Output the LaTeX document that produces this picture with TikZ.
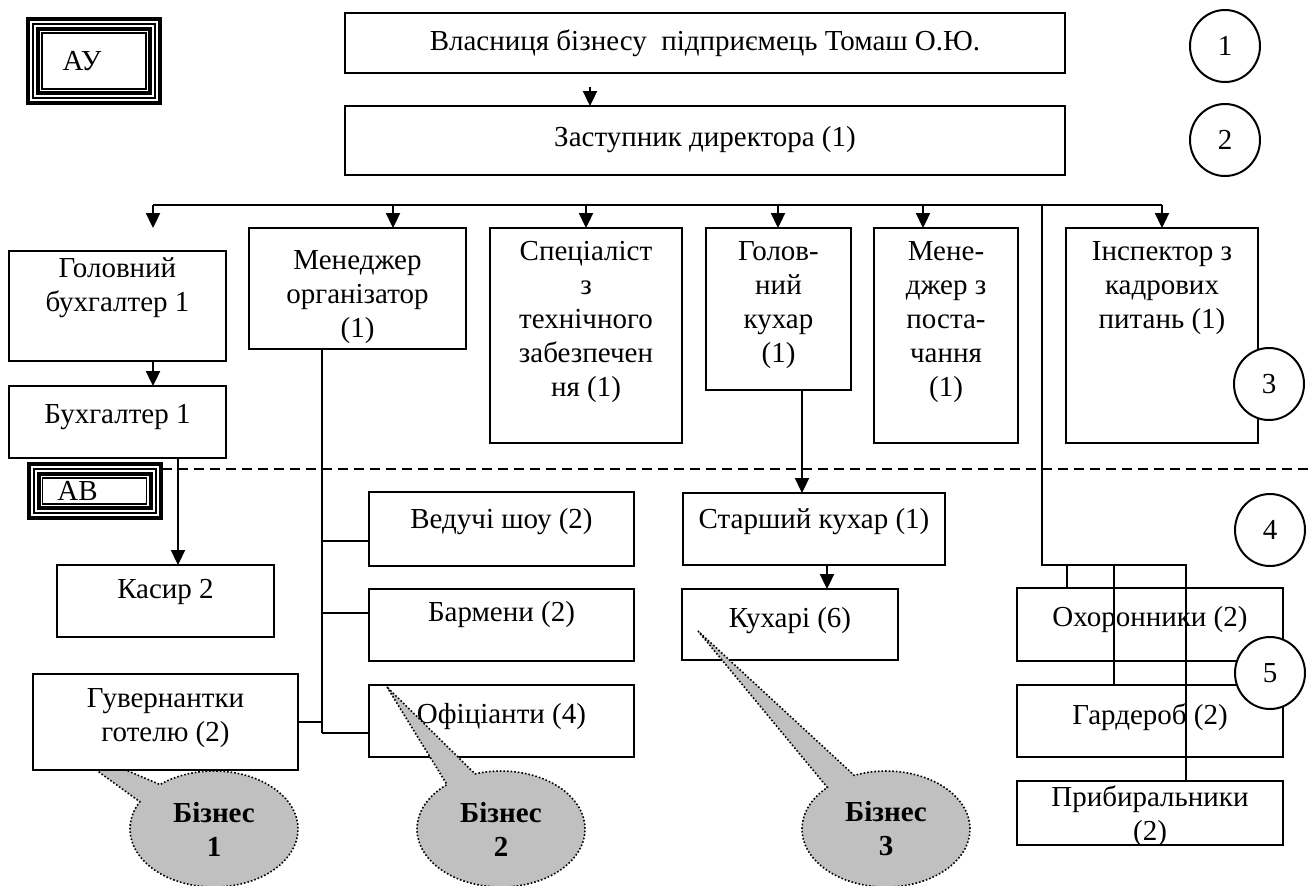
\documentclass[tikz,border=0pt]{standalone}
\usepackage{fontspec}
\setmainfont{Liberation Serif}
\usetikzlibrary{arrows.meta,shapes.geometric,shapes.callouts}
\definecolor{orgink}{HTML}{000000}
\definecolor{orggrey}{HTML}{C0C0C0}

\begin{document}
\begin{tikzpicture}[
  x=0.5pt, y=-0.5pt,
  every node/.style={inner sep=0pt, outer sep=0pt, text=orgink},
  bx/.style={draw=orgink, line width=1.2pt, fill=white},
  txt/.style={font=\fontsize{14.5}{17}\selectfont, align=center},
  ln/.style={draw=orgink, line width=1.15pt},
  flow/.style={ln, -{Triangle[length=7.5pt,width=7pt]}},
  sepline/.style={draw=orgink, line width=1pt, dash pattern=on 5pt off 3pt},
  num/.style={ellipse, draw=orgink, line width=1pt, fill=white,
    minimum width=35pt, minimum height=36pt, font=\fontsize{14.5}{17}\selectfont},
  lvl/.style={draw=orgink, line width=2pt, fill=white, minimum width=66pt,
    font=\fontsize{14.5}{17}\selectfont},
  biz/.style={ellipse callout, draw=orgink, densely dotted, line width=0.8pt,
    fill=orggrey, minimum width=84pt, minimum height=58pt, callout pointer arc=22,
    align=center, font=\fontsize{14.5}{17}\selectfont\bfseries},
]
\useasboundingbox (0,0) rectangle (1313,885);

% a box from its corners, text centred at a given height
\newcommand{\orgbox}[7]{%
  \node[bx, minimum width={(#4-#2)*0.5pt}, minimum height={(#5-#3)*0.5pt}]
    (#1) at ({(#2+#4)/2},{(#3+#5)/2}) {};
  \node[txt] (#1-t) at ({(#2+#4)/2},#6) {#7};}
% thick-thin frame inside a level tag
\newcommand{\triframe}[1]{%
  \draw[line width=1pt] ([shift={(2.5pt,-2.5pt)}]#1.north west)
    rectangle ([shift={(-2.5pt,2.5pt)}]#1.south east);
  \draw[line width=2pt] ([shift={(5pt,-5pt)}]#1.north west)
    rectangle ([shift={(-5pt,5pt)}]#1.south east);
  \draw[line width=0.6pt] ([shift={(7pt,-7pt)}]#1.north west)
    rectangle ([shift={(-7pt,7pt)}]#1.south east);}

% ---------- business 1 sits under the governesses ----------
\node[biz, callout absolute pointer={(55,740)}] (biz1) at (214,829) {Бізнес\\1};

% ---------- levels 1-2 ----------
\orgbox{own}{345}{13}{1065}{73}{43}{Власниця бізнесу\ \ підприємець Томаш О.Ю.}
\orgbox{zast}{345}{106}{1065}{175}{140}{Заступник директора (1)}

% ---------- level 3 ----------
\orgbox{gbuh}{9}{251}{226}{361}{288}{Головний\\бухгалтер 1}
\orgbox{buh}{9}{386}{226}{458}{417}{Бухгалтер 1}
\orgbox{mgr}{249}{228}{466}{349}{297}{Менеджер\\організатор\\(1)}
\orgbox{spec}{490}{228}{682}{443}{322}{Спеціаліст\\з\\технічного\\забезпечен\\ня (1)}
\orgbox{chef}{706}{228}{851}{390}{305}{Голов-\\ний\\кухар\\(1)}
\orgbox{supl}{874}{228}{1018}{443}{322}{Мене-\\джер з\\поста-\\чання\\(1)}
\orgbox{insp}{1066}{228}{1258}{443}{288}{Інспектор з\\кадрових\\питань (1)}

% ---------- levels 4-5 ----------
\orgbox{kasyr}{57}{565}{274}{637}{592}{Касир 2}
\orgbox{guv}{33}{674}{298}{770}{718}{Гувернантки\\готелю (2)}
\orgbox{vedu}{369}{492}{634}{566}{522}{Ведучі шоу (2)}
\orgbox{barm}{369}{589}{634}{661}{615}{Бармени (2)}
\orgbox{ofic}{369}{685}{634}{757}{717}{Офіціанти (4)}
\orgbox{stk}{683}{493}{945}{565}{522}{Старший кухар (1)}
\orgbox{kuh}{682}{589}{898}{660}{621}{Кухарі (6)}
\orgbox{ohor}{1017}{588}{1283}{661}{620}{Охоронники (2)}
\orgbox{gard}{1017}{685}{1283}{757}{717}{Гардероб (2)}
\orgbox{prib}{1017}{781}{1283}{845}{816}{Прибиральники\\(2)}

% ---------- management / execution split ----------
\coordinate (dl) at (162,469);
\coordinate (dr) at (1313,469);
\draw[sepline] (dl) -- (dr);
\node[lvl, minimum height=42pt] (ay) at (94,61) {АУ\kern12pt};
\triframe{ay}
\node[lvl, minimum height=27pt] (ab) at (94.5,491) {АВ\kern17pt};
\triframe{ab}

% ---------- connectors ----------
\coordinate (ownq) at (590,87);
\draw[flow] (ownq) -- (ownq |- zast.north);
\coordinate (busl) at (153,205);
\coordinate (busr) at (1162,205);
\draw[ln] (busl) -- (busr);
\draw[flow] (busl) -- ++(0,23);
\foreach \n/\x in {mgr/393, spec/586, chef/778, supl/923, insp/1162}{
  \coordinate (b-\n) at (\x,205);
  \draw[flow] (b-\n) -- (b-\n |- \n.north);
}
\draw[flow] (busl |- gbuh.south) -- (busl |- buh.north);
\coordinate (kq) at (178,0);
\draw[flow] (buh.south -| kq) -- (kasyr.north -| kq);

\coordinate (mq) at (322,0);
\draw[ln] (mgr.south -| mq) -- ([yshift=-6pt]ofic.west -| mq);
\foreach \n/\s in {vedu/-6pt, barm/6pt, ofic/-6pt}{
  \draw[ln] ([yshift=\s]\n.west) -- ([yshift=\s]\n.west -| mq);
}
\draw[ln] (guv.east) -- (guv.east -| mq);

\coordinate (cq) at (802,0);
\draw[flow] (chef.south -| cq) -- (stk.north -| cq);
\coordinate (kk) at (827,0);
\draw[flow] (stk.south -| kk) -- (kuh.north -| kk);

\coordinate (rq) at (1042,565);
\coordinate (rr) at (1186,565);
\draw[ln] (rq |- busl) -- (rq) -- (rr) -- (rr |- prib.north);
\foreach \n/\x in {ohor/1067, gard/1114}{
  \coordinate (d-\n) at (\x,565);
  \draw[ln] (d-\n) -- (d-\n |- \n.north);
}

% ---------- businesses 2 and 3 ----------
\node[biz, callout absolute pointer={(387,687)}] (biz2) at (501,829) {Бізнес\\2};
\node[biz, callout absolute pointer={(698,631)}] (biz3) at (886,829) {Бізнес\\3};

% ---------- level numbers ----------
\node[num] (c1) at (1225,46) {1};
\node[num] (c2) at (1225,140) {2};
\node[num] (c3) at (1269,384) {3};
\node[num] (c4) at (1270,530) {4};
\node[num] (c5) at (1270,673) {5};

\end{tikzpicture}
\end{document}
